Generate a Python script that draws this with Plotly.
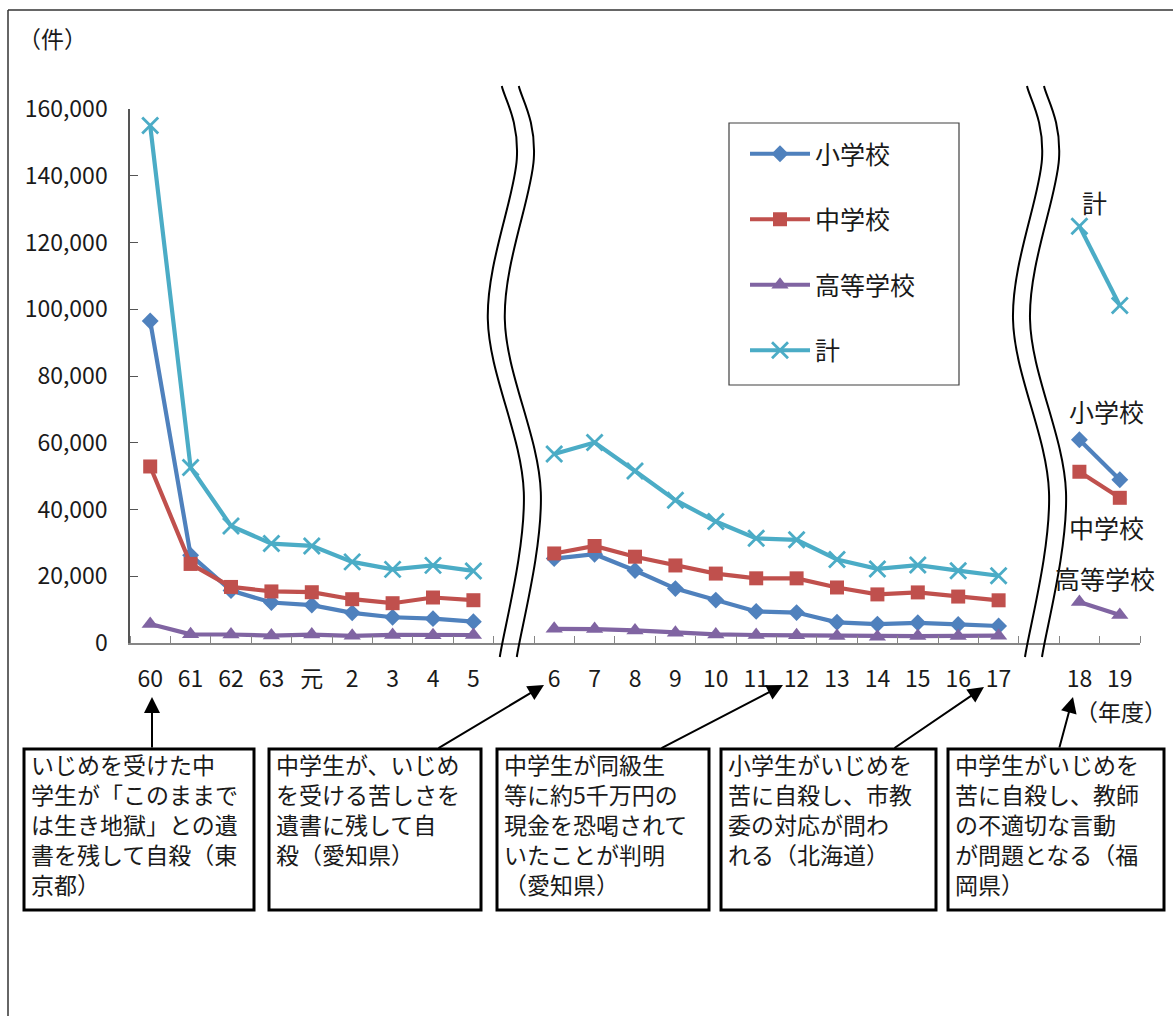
import plotly.graph_objects as go

# ---- data: reported bullying cases by school type (fiscal years) ----
years_a = ["60", "61", "62", "63", "元", "2", "3", "4", "5"]
years_b = ["6", "7", "8", "9", "10", "11", "12", "13", "14", "15", "16", "17"]
years_c = ["18", "19"]

elem_a = [96457, 26306, 15727, 12122, 11350, 9035, 7718, 7300, 6390]
elem_b = [25295, 26614, 21733, 16294, 12858, 9462, 9114, 6206, 5659, 6051, 5551, 5087]
elem_c = [60897, 48896]

junior_a = [52891, 23690, 16796, 15452, 15215, 13121, 11922, 13632, 12817]
junior_b = [26828, 29069, 25862, 23234, 20801, 19383, 19371, 16635, 14562, 15159, 13915, 12794]
junior_c = [51310, 43505]

high_a = [5718, 2614, 2544, 2212, 2523, 2152, 2422, 2326, 2391]
high_b = [4253, 4184, 3771, 3103, 2576, 2391, 2327, 2119, 1906, 2070, 2121, 2191]
high_c = [12307, 8355]

total_a = [155066, 52610, 35067, 29786, 29088, 24308, 22062, 23258, 21598]
total_b = [56601, 60096, 51544, 42790, 36396, 31359, 30918, 25037, 22205, 23351, 21671, 20143]
total_c = [124898, 101097]

y_ticks = [0, 20000, 40000, 60000, 80000, 100000, 120000, 140000, 160000]

series_names = ["小学校", "中学校", "高等学校", "計"]
colors = ["#4F81BD", "#C0504D", "#8064A2", "#4BACC6"]

events = [
    ("60", ["いじめを受けた中", "学生が「このままで", "は生き地獄」との遺", "書を残して自殺（東", "京都）"]),
    ("6", ["中学生が、いじめ", "を受ける苦しさを", "遺書に残して自", "殺（愛知県）"]),
    ("12", ["中学生が同級生", "等に約5千万円の", "現金を恐喝されて", "いたことが判明", "（愛知県）"]),
    ("17", ["小学生がいじめを", "苦に自殺し、市教", "委の対応が問わ", "れる（北海道）"]),
    ("18", ["中学生がいじめを", "苦に自殺し、教師", "の不適切な言動", "が問題となる（福", "岡県）"]),
]

# ---- category slots: the three periods separated by an empty slot (axis break) ----
slots = years_a + [None] + years_b + [None] + years_c
n_slots = len(slots)
centers = [i + 0.5 for i in range(n_slots)]


def with_gaps(a, b, c):
    return a + [None] + b + [None] + c


values = [
    with_gaps(elem_a, elem_b, elem_c),
    with_gaps(junior_a, junior_b, junior_c),
    with_gaps(high_a, high_b, high_c),
    with_gaps(total_a, total_b, total_c),
]

markers = [
    dict(symbol="diamond", size=13),
    dict(symbol="square", size=14),
    dict(symbol="triangle-up", size=15),
    dict(symbol="x-thin", size=16, line=dict(width=2.8)),
]

FONT = "Noto Sans CJK JP, Noto Sans, sans-serif"
TXT = "#1a1a1a"

W, H = 1173, 1016
L, R, T, B = 130, 1140, 109, 643


def px(x):
    return (x - L) / (R - L)


def py(y):
    return (B - y) / (B - T)


fig = go.Figure()
for name, col, yv, mk in zip(series_names, colors, values, markers):
    m = dict(mk)
    m["color"] = col
    if "line" in m:
        m["line"] = dict(m["line"], color=col)
    fig.add_trace(go.Scatter(
        x=centers, y=yv, name=name, mode="lines+markers",
        line=dict(color=col, width=4.2), marker=m,
        connectgaps=False, cliponaxis=False, legendgroup=name,
    ))

shapes = []
annotations = []

# outer frame (top and left edges)
shapes.append(dict(type="line", xref="paper", yref="paper", x0=px(8), x1=px(1173),
                   y0=py(10), y1=py(10), line=dict(color="#333333", width=1.5)))
shapes.append(dict(type="line", xref="paper", yref="paper", x0=px(8), x1=px(8),
                   y0=py(10), y1=py(1016), line=dict(color="#333333", width=1.5)))


# wavy double lines marking the axis breaks
def smooth_path(pts):
    P = [pts[0]] + pts + [pts[-1]]
    d = "M {:.5f},{:.5f}".format(px(P[1][0]), py(P[1][1]))
    for i in range(1, len(P) - 2):
        p0, p1, p2, p3 = P[i - 1], P[i], P[i + 1], P[i + 2]
        c1 = (p1[0] + (p2[0] - p0[0]) / 6, p1[1] + (p2[1] - p0[1]) / 6)
        c2 = (p2[0] - (p3[0] - p1[0]) / 6, p2[1] - (p3[1] - p1[1]) / 6)
        d += " C {:.5f},{:.5f} {:.5f},{:.5f} {:.5f},{:.5f}".format(
            px(c1[0]), py(c1[1]), px(c2[0]), py(c2[1]), px(p2[0]), py(p2[1]))
    return d


wave = [(-12, 86), (3, 159), (-26, 319), (10, 492), (-14, 657)]
slot_w = (R - L) / n_slots
for i, s in enumerate(slots):
    if s is None:
        cx = L + (i + 0.5) * slot_w
        for off in (0, 17):
            pts = [(cx + dx + off, yy) for dx, yy in wave]
            shapes.append(dict(type="path", xref="paper", yref="paper",
                               path=smooth_path(pts), line=dict(color="#000000", width=2)))

# legend frame
shapes.append(dict(type="rect", xref="paper", yref="paper", x0=px(729), x1=px(959),
                   y0=py(123), y1=py(385), line=dict(color="#404040", width=1.2)))

# event boxes with arrows to their fiscal year
boxes = [(24, 254), (269, 481), (497, 709), (721, 936), (948, 1164)]
tails = [152, 437, 660, 893, 1059]
tips = [(152, 697), (544, 685), (783, 685), (984, 687), (1073, 697)]
box_top, box_bot = 749, 910
for (x0, x1), tail_x, (tip_x, tip_y), (yr, lines) in zip(boxes, tails, tips, events):
    shapes.append(dict(type="rect", xref="paper", yref="paper", x0=px(x0), x1=px(x1),
                       y0=py(box_top), y1=py(box_bot), line=dict(color="#000000", width=3),
                       fillcolor="white"))
    annotations.append(dict(xref="paper", yref="paper", x=px(x0 + 5), y=py(box_top - 4),
                            xanchor="left", yanchor="top", align="left", showarrow=False,
                            text="<br>".join(lines),
                            font=dict(family=FONT, size=23, color=TXT)))
    annotations.append(dict(xref="paper", yref="paper", x=px(tip_x), y=py(tip_y), text="",
                            showarrow=True, arrowhead=2, arrowsize=1.6, arrowwidth=2,
                            arrowcolor="#000000", ax=tail_x - tip_x, ay=box_top - tip_y,
                            standoff=0, startstandoff=0))

# unit labels
annotations.append(dict(xref="paper", yref="paper", x=px(52), y=py(38), text="（件）",
                        xanchor="center", yanchor="middle", showarrow=False,
                        font=dict(family=FONT, size=23, color=TXT)))
annotations.append(dict(xref="paper", yref="paper", x=px(1121), y=py(711), text="（年度）",
                        xanchor="center", yanchor="middle", showarrow=False,
                        font=dict(family=FONT, size=23, color=TXT)))

# series labels beside the latest period
for name, (lx, ly) in zip(["計", "小学校", "中学校", "高等学校"],
                          [(1094, 202), (1106, 411), (1106, 527), (1105, 578)]):
    annotations.append(dict(xref="paper", yref="paper", x=px(lx), y=py(ly), text=name,
                            xanchor="center", yanchor="middle", showarrow=False,
                            font=dict(family=FONT, size=25, color=TXT)))

fig.update_layout(
    width=W, height=H, autosize=False,
    margin=dict(l=L, r=W - R, t=T, b=H - B, pad=0),
    paper_bgcolor="white", plot_bgcolor="white",
    font=dict(family=FONT, color=TXT),
    shapes=shapes, annotations=annotations,
    showlegend=True,
    legend=dict(x=px(745), y=py(131), xanchor="left", yanchor="top",
                bgcolor="rgba(0,0,0,0)", borderwidth=0,
                font=dict(family=FONT, size=25, color=TXT),
                traceorder="grouped", tracegroupgap=30, itemwidth=60),
    xaxis=dict(range=[0, n_slots], showgrid=False, zeroline=False,
               showline=True, linecolor="#868686", linewidth=1.5,
               tickmode="array", tickvals=centers,
               ticktext=[s if s is not None else "" for s in slots],
               ticks="", ticklabelstandoff=15,
               tickfont=dict(family=FONT, size=23, color=TXT),
               minor=dict(tickmode="array", tickvals=list(range(n_slots + 1)),
                          ticks="inside", ticklen=7, tickcolor="#868686", tickwidth=1.2),
               fixedrange=True),
    yaxis=dict(range=[0, 160000], showgrid=False, zeroline=False,
               showline=True, linecolor="#555555", linewidth=1.5,
               tickmode="array", tickvals=y_ticks, tickformat=",d",
               ticks="inside", ticklen=8, tickcolor="#555555", tickwidth=1.2,
               ticklabelstandoff=16,
               tickfont=dict(family=FONT, size=23, color=TXT), fixedrange=True),
)

fig.write_html("out.html")
